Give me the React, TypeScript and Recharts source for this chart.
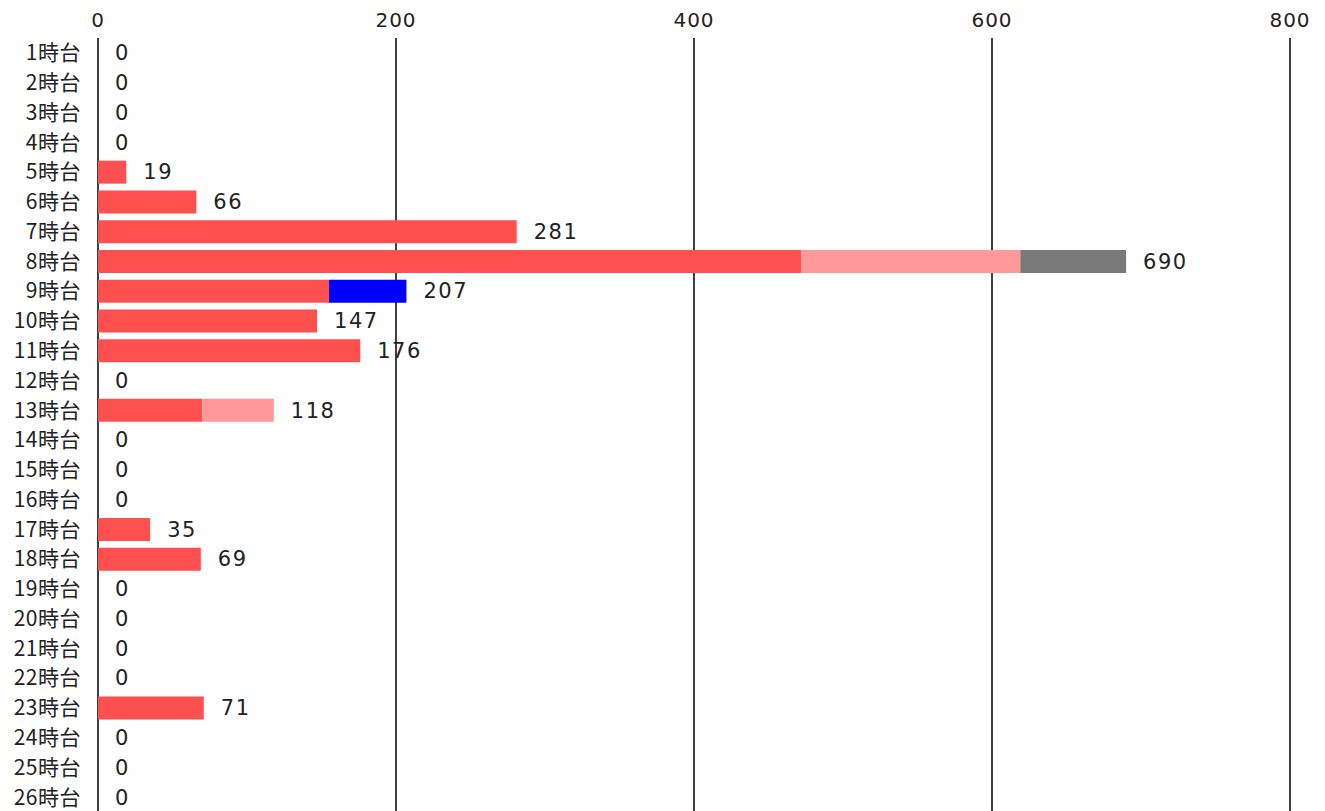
import React from 'react';
import { ComposedChart, Bar, Line, XAxis, YAxis, CartesianGrid, LabelList } from 'recharts';

const categories = ['1時台','2時台','3時台','4時台','5時台','6時台','7時台','8時台','9時台','10時台','11時台','12時台','13時台','14時台','15時台','16時台','17時台','18時台','19時台','20時台','21時台','22時台','23時台','24時台','25時台','26時台'];
const redValues = [0,0,0,0,19,66,281,472,155,147,176,0,70,0,0,0,35,69,0,0,0,0,71,0,0,0];
const pinkValues = [0,0,0,0,0,0,0,147,0,0,0,0,48,0,0,0,0,0,0,0,0,0,0,0,0,0];
const grayValues = [0,0,0,0,0,0,0,71,0,0,0,0,0,0,0,0,0,0,0,0,0,0,0,0,0,0];
const blueValues = [0,0,0,0,0,0,0,0,52,0,0,0,0,0,0,0,0,0,0,0,0,0,0,0,0,0];
const xTicks = [0, 200, 400, 600, 800];

const data = categories.map((c, i) => ({
  name: c,
  red: redValues[i],
  pink: pinkValues[i],
  gray: grayValues[i],
  blue: blueValues[i],
  total: redValues[i] + pinkValues[i] + grayValues[i] + blueValues[i],
}));

const FONT = '"Noto Sans CJK JP", "Noto Sans", sans-serif';
const NUM_FONT = '"DejaVu Sans", "Noto Sans CJK JP", sans-serif';

export default function App() {
  return (
    <div style={{ position: 'absolute', left: 0, top: 0, fontFamily: FONT }}>
      <ComposedChart
        width={1325}
        height={812}
        data={data}
        layout="vertical"
        margin={{ top: 0, right: 35, bottom: 0, left: 0 }}
        barCategoryGap="12%"
      >
        <CartesianGrid horizontal={false} stroke="#000" strokeWidth={1.5} />
        <XAxis
          type="number"
          orientation="top"
          domain={[0, 800]}
          ticks={xTicks}
          axisLine={false}
          tickLine={false}
          height={38}
          tickSize={0}
          tickMargin={11}
          tick={{ fill: '#222', fontSize: 20, fontFamily: NUM_FONT, letterSpacing: 1 }}
        />
        <YAxis
          type="category"
          dataKey="name"
          width={98}
          axisLine={false}
          tickLine={false}
          tickSize={0}
          tickMargin={17}
          interval={0}
          tick={{ fill: '#222', fontSize: 21, fontFamily: FONT, letterSpacing: 0.5 }}
        />
        <Bar dataKey="red" stackId="a" fill="#ff5050" isAnimationActive={false} />
        <Bar dataKey="pink" stackId="a" fill="#ff9999" isAnimationActive={false} />
        <Bar dataKey="gray" stackId="a" fill="#797979" isAnimationActive={false} />
        <Bar dataKey="blue" stackId="a" fill="#0000ff" isAnimationActive={false} />
        <Line
          dataKey="total"
          stroke="none"
          dot={false}
          activeDot={false}
          isAnimationActive={false}
        >
          <LabelList dataKey="total" position="right" offset={17} fill="#222" fontSize={21} fontFamily={NUM_FONT} style={{ letterSpacing: 1.5 }} />
        </Line>
      </ComposedChart>
    </div>
  );
}
